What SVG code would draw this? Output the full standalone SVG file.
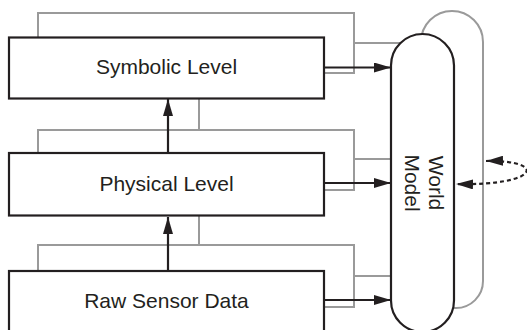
<svg xmlns="http://www.w3.org/2000/svg" width="527" height="330" viewBox="0 0 527 330">
<style>
.box{fill:#fff;stroke:#231f20;stroke-width:2.2}
.gray{fill:none;stroke:#9a9a9a;stroke-width:2}
.arr{fill:none;stroke:#231f20;stroke-width:2.2}
.lbl{font-family:"Liberation Sans",Arial,sans-serif;font-size:21px;fill:#231f20;text-anchor:middle}
</style>
<defs>
<marker id="ah" viewBox="0 0 17 10" refX="17" refY="5" markerWidth="17" markerHeight="10" markerUnits="userSpaceOnUse" orient="auto-start-reverse">
<path d="M0 0 L17 5 L0 10 Z" fill="#231f20"/>
</marker>
</defs>
<rect width="527" height="330" fill="#fff"/>
<g id="connectors">
<path class="gray" d="M38 38 V13 H354 V73 H325 M354 43 H420"/>
<path class="gray" d="M38 153 V130 H354 V190 H325 M354 159 H400 M199 98 V130"/>
<path class="gray" d="M38 271 V245 H354 V307 H325 M354 276 H400 M199 216 V245"/>
<path class="gray" d="M421 200 V42 A31 31 0 0 1 483 42 V281 A27 27 0 0 1 456 308 H430"/>
<path class="arr" d="M324 67.5 H391" marker-end="url(#ah)"/>
<path class="arr" d="M324 183 H391" marker-end="url(#ah)"/>
<path class="arr" d="M324 300 H391" marker-end="url(#ah)"/>
<path class="arr" d="M168 153 V99" marker-end="url(#ah)"/>
<path class="arr" d="M168 271 V217" marker-end="url(#ah)"/>
<path class="arr" d="M486 161 C548 160 540 186 456 184" stroke-dasharray="4 3" marker-start="url(#ah)" marker-end="url(#ah)"/>
</g>
<g id="world-model">
<rect class="box" x="391" y="34" width="63" height="298" rx="31.5"/>
<text class="lbl" transform="translate(429 183) rotate(90)"><tspan x="0" y="0">World</tspan><tspan x="0" y="24">Model</tspan></text>
</g>
<g id="symbolic-level">
<rect class="box" x="9" y="37.5" width="315" height="61"/>
<text class="lbl" x="166.5" y="73.5">Symbolic Level</text>
</g>
<g id="physical-level">
<rect class="box" x="9" y="153" width="315" height="62.5"/>
<text class="lbl" x="166.5" y="191">Physical Level</text>
</g>
<g id="raw-sensor-data">
<rect class="box" x="9" y="271" width="315" height="70"/>
<text class="lbl" x="166.5" y="308">Raw Sensor Data</text>
</g>
</svg>
